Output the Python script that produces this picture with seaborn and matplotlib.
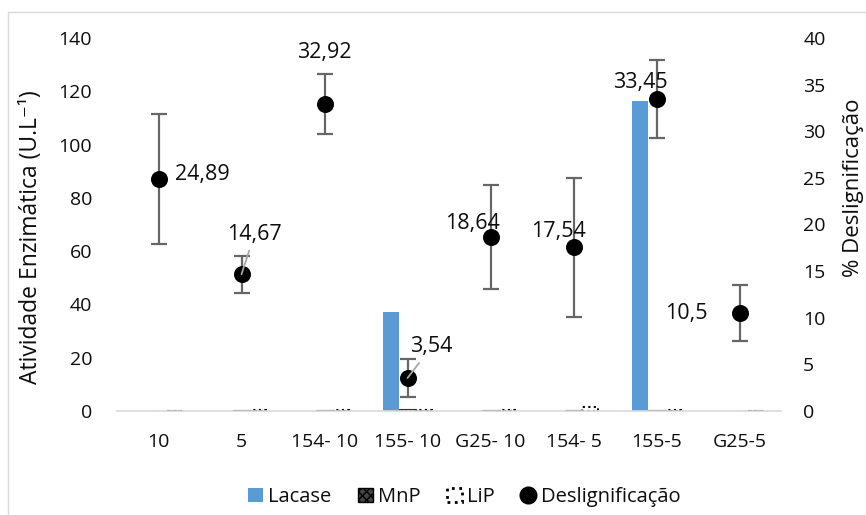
import numpy as np
import pandas as pd
import matplotlib
matplotlib.use("Agg")
import matplotlib.pyplot as plt
import seaborn as sns
from matplotlib.patches import Patch
from matplotlib.lines import Line2D

categories = ['10', '5', '154- 10', '155- 10', 'G25- 10', '154- 5', '155-5', 'G25-5']
lacase = [0, 0, 0, 37, 0, 0, 116.5, 0]
mnp = [0, 0.3, 0.3, 0.6, 0.3, 0.3, 0.3, 0]
lip = [0, 0.4, 0.5, 0.3, 0.4, 1.5, 0.4, 0]
deslig = [24.89, 14.67, 32.92, 3.54, 18.64, 17.54, 33.45, 10.5]
deslig_err = [7.0, 2.0, 3.2, 2.0, 5.6, 7.5, 4.2, 3.0]
deslig_labels = ['24,89', '14,67', '32,92', '3,54', '18,64', '17,54', '33,45', '10,5']
series_names = ['Lacase', 'MnP', 'LiP']

sns.set_theme(style="white")
plt.rcParams['font.family'] = ['Open Sans', 'DejaVu Sans']
TXT = '#0d0d0d'

df = pd.DataFrame({
    'cat': categories * 3,
    'enzima': [s for s in series_names for _ in categories],
    'valor': lacase + mnp + lip,
})

fig = plt.figure(figsize=(8.66, 5.15), dpi=100)
ax = fig.add_axes([117 / 866, 1 - 411 / 515, 664 / 866, 373 / 515])

sns.barplot(data=df, x='cat', y='valor', hue='enzima', order=categories,
            hue_order=series_names, palette=['#5B9BD5', 'white', 'white'],
            saturation=1, width=0.585, errorbar=None, legend=False, ax=ax)

plt.rcParams['hatch.linewidth'] = 1.0
for i, cont in enumerate(ax.containers):
    for p in cont:
        if i == 0:
            p.set_edgecolor('none')
        elif i == 1:
            p.set_facecolor('white')
            p.set_edgecolor('#333333')
            p.set_hatch('xxxx')
            p.set_linewidth(0.8)
        else:
            p.set_facecolor('none')
            p.set_edgecolor('black')
            p.set_linestyle(':')
            p.set_linewidth(1.5)

ax.set_ylim(0, 140)
ax.set_yticks(np.arange(0, 141, 20))
ax.set_xlim(-0.5, len(categories) - 0.5)
ax.set_xlabel('')
ax.set_ylabel('Atividade Enzimática (U.L⁻¹)', fontsize=16.5, color=TXT)
ax.yaxis.set_label_coords(-0.111, 0.466)
for s in ['left', 'right', 'top']:
    ax.spines[s].set_visible(False)
ax.spines['bottom'].set_color('#d9d9d9')
ax.spines['bottom'].set_linewidth(1.2)
ax.tick_params(axis='y', length=0, pad=18, labelsize=14, labelcolor=TXT)
ax.tick_params(axis='x', length=0, pad=16, labelsize=14, labelcolor=TXT)

ax2 = ax.twinx()
xpos = np.arange(len(categories))
ax2.errorbar(xpos, deslig, yerr=deslig_err, fmt='none', ecolor='#666666',
             elinewidth=1.6, capsize=6, capthick=1.6, zorder=3)
sns.scatterplot(x=xpos, y=deslig, color='black', s=150, edgecolor='black',
                linewidth=0, zorder=4, ax=ax2, legend=False)
ax2.set_ylim(0, 40)
ax2.set_yticks(np.arange(0, 41, 5))
ax2.set_xlim(-0.5, len(categories) - 0.5)
for s in ['left', 'right', 'top', 'bottom']:
    ax2.spines[s].set_visible(False)
ax2.tick_params(axis='y', length=0, pad=16, labelsize=14, labelcolor=TXT)
ax2.set_ylabel('% Deslignificação', fontsize=16, color=TXT)
ax2.yaxis.set_label_coords(1.093, 0.598)

offsets = [(17, 4, 'left', False), (13, 40, 'center', True), (0, 52, 'center', False),
           (24, 31, 'center', True), (-18, 14, 'center', False), (-15, 16, 'center', False),
           (-16, 17, 'center', False), (-53, 0, 'center', False)]
for x, y, lab, (dx, dy, ha, leader) in zip(xpos, deslig, deslig_labels, offsets):
    kw = {}
    if leader:
        kw['arrowprops'] = dict(arrowstyle='-', color='#a6a6a6', lw=1.3,
                                shrinkA=2, shrinkB=0)
    ax2.annotate(lab, xy=(x, y), xytext=(dx, dy), textcoords='offset pixels',
                 ha=ha, va='center', fontsize=15.5, color=TXT, zorder=5, **kw)

handles = [
    Patch(facecolor='#5B9BD5', edgecolor='none', label='Lacase'),
    Patch(facecolor='#444444', edgecolor='black', hatch='xxxx', label='MnP'),
    Patch(facecolor='white', edgecolor='black', linestyle=':', linewidth=2, label='LiP'),
    Line2D([], [], marker='o', color='black', linestyle='none', markersize=12,
           label='Deslignificação'),
]
leg = fig.legend(handles=handles, loc='center', bbox_to_anchor=(0.536, 1 - 497 / 515),
                 ncol=4, frameon=False, fontsize=14.5, handlelength=0.75,
                 handleheight=0.75, handletextpad=0.25, columnspacing=1.3)
for t in leg.get_texts():
    t.set_color(TXT)

fig.add_artist(Line2D([8 / 866, 8 / 866], [0, 1 - 12 / 515], transform=fig.transFigure,
                      color='#d9d9d9', lw=1))
fig.add_artist(Line2D([8 / 866, 1], [1 - 12 / 515, 1 - 12 / 515], transform=fig.transFigure,
                      color='#d9d9d9', lw=1))

fig.savefig('out.png', dpi=100)
